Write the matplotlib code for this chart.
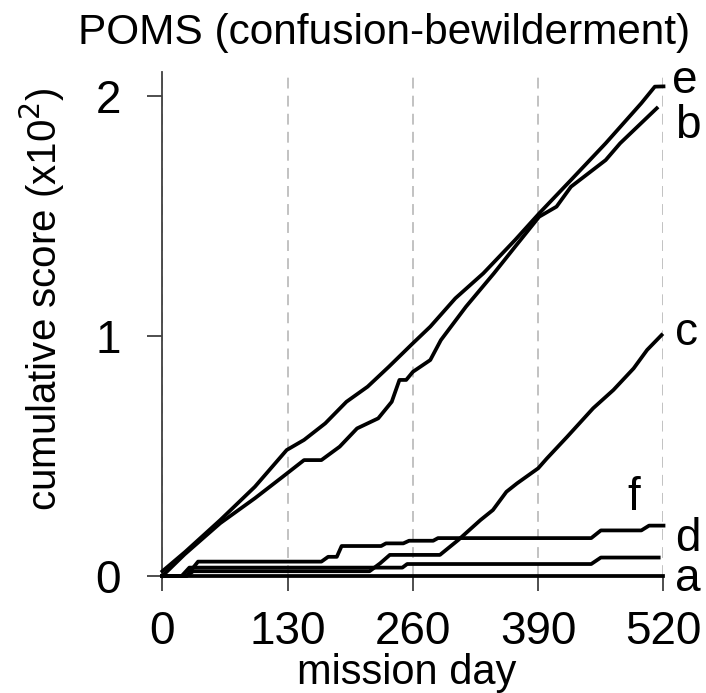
import matplotlib
matplotlib.use("Agg")
import matplotlib.pyplot as plt

# cumulative POMS confusion-bewilderment scores (x10^2) per crew member
days_e = [0, 23.5, 60, 96, 129, 147, 169, 191, 213, 235, 260, 278, 304, 333, 366, 391, 424, 460, 497, 511, 520]
vals_e = [0.02, 0.10, 0.233, 0.372, 0.525, 0.567, 0.636, 0.726, 0.789, 0.872, 0.97,
          1.039, 1.157, 1.261, 1.40, 1.511, 1.65, 1.803, 1.97, 2.039, 2.04]

days_b = [0, 23, 60, 96, 125, 147, 165, 184, 202, 224, 238, 246, 253, 260, 278, 289,
          315, 344, 366, 391, 409, 424, 460, 475, 513]
vals_b = [0.0, 0.09, 0.22, 0.324, 0.414, 0.483, 0.483, 0.539, 0.615, 0.657, 0.726, 0.817,
          0.817, 0.851, 0.90, 0.983, 1.122, 1.261, 1.372, 1.497, 1.539, 1.622, 1.733, 1.803, 1.949]

days_c = [0, 25, 32, 215, 226, 236, 288, 307, 330, 343, 357, 368, 390, 399, 420, 447, 468, 489, 503, 518]
vals_c = [0, 0, 0.02, 0.02, 0.053, 0.088, 0.088, 0.15, 0.233, 0.275, 0.351, 0.386, 0.449,
          0.49, 0.58, 0.699, 0.775, 0.865, 0.942, 1.004]

days_f = [0, 25, 37, 165, 172, 181, 186, 227, 232, 250, 256, 281, 286, 445, 455, 497, 505, 520]
vals_f = [0, 0, 0.06, 0.06, 0.08, 0.08, 0.125, 0.125, 0.136, 0.136, 0.147, 0.147, 0.158,
          0.158, 0.19, 0.19, 0.21, 0.21]

days_d = [0, 20, 28, 249, 254, 445, 455, 515]
vals_d = [0, 0, 0.035, 0.035, 0.05, 0.05, 0.077, 0.077]

days_a = [0, 520]
vals_a = [0, 0]

series = [("a", days_a, vals_a), ("d", days_d, vals_d), ("f", days_f, vals_f),
          ("c", days_c, vals_c), ("b", days_b, vals_b), ("e", days_e, vals_e)]

# end labels (day, value) where the letter sits
label_pos = {"e": (529, 2.013), "b": (532, 1.825), "c": (532, 0.963),
             "f": (482, 0.275), "d": (532, 0.106), "a": (532, -0.064)}

xticks = [0, 130, 260, 390, 520]
yticks = [0, 1, 2]

plt.rcParams["font.family"] = ["Liberation Sans", "DejaVu Sans"]

fig = plt.figure(figsize=(7.06, 6.93), dpi=100)
ax = fig.add_axes([0.230, 0.1688, 0.7098, 0.7273])

for name, d, v in series:
    ax.plot(d, v, color="black", lw=2.7, clip_on=False, zorder=3, solid_joinstyle="round")
    lx, ly = label_pos[name]
    ax.text(lx, ly, name, fontsize=33, ha="left", va="baseline")

ax.set_xlim(0, 520)
ax.set_ylim(0, 2.1)
ax.set_xticks(xticks)
ax.set_yticks(yticks)
ax.set_xticklabels([str(t) for t in xticks])
ax.set_yticklabels([str(t) for t in yticks])

ax.grid(axis="x", color="#bdbdbd", lw=1.3, linestyle=(0, (6, 4)))
ax.grid(axis="y", visible=False)

for s in ["top", "right"]:
    ax.spines[s].set_visible(False)
for s in ["left", "bottom"]:
    ax.spines[s].set_color("#404040")
    ax.spines[s].set_linewidth(1.3)

ax.tick_params(axis="both", direction="out", length=11, width=1.3, color="#404040",
               labelsize=33)
ax.tick_params(axis="x", pad=13.5)
ax.tick_params(axis="y", pad=19)

ax.set_xlabel("mission day", fontsize=30)
ax.xaxis.set_label_coords(0.488, -0.153)
ax.set_ylabel("cumulative score (x10$^2$)", fontsize=29)
ax.yaxis.set_label_coords(-0.19, 0.55)

ax.text(0.442, 1.0556, "POMS (confusion-bewilderment)", transform=ax.transAxes,
        fontsize=30.5, ha="center", va="baseline")

fig.savefig("out.png", dpi=100)
